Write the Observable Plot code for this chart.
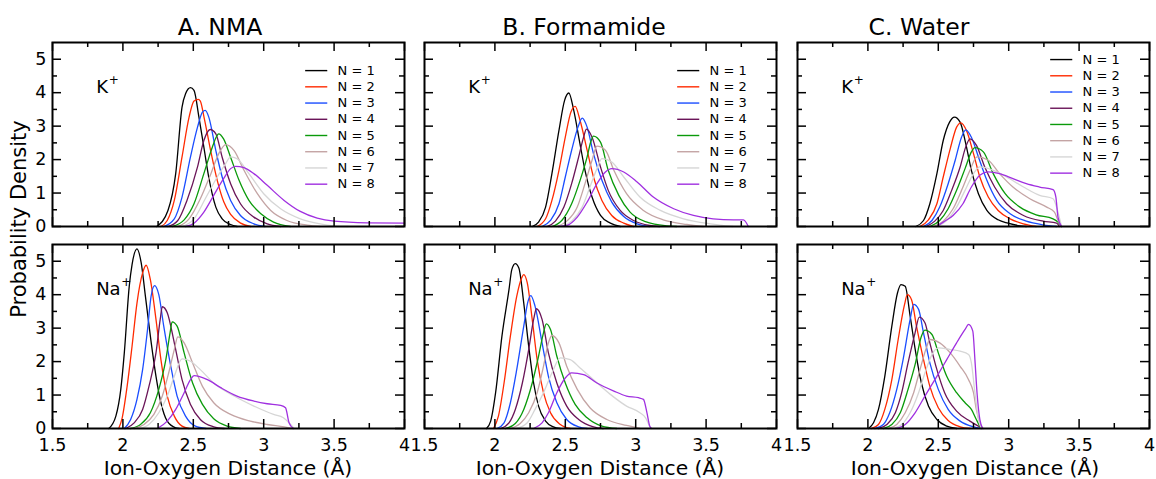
<!DOCTYPE html>
<html>
<head>
<meta charset="utf-8">
<script src="https://cdn.jsdelivr.net/npm/d3@7"></script>
<script src="https://cdn.jsdelivr.net/npm/@observablehq/plot@0.6"></script>
<style>
  html, body { margin: 0; padding: 0; background: #fff; }
  #wrap { position: relative; width: 1156px; height: 479px; overflow: hidden; background: #fff; }
  #wrap svg { position: absolute; }
</style>
</head>
<body>
<div id="wrap"></div>
<script>
// ---------------- data ----------------
const solvents = ["A. NMA", "B. Formamide", "C. Water"];
const ions = ["K", "Na"];
const nValues = [1, 2, 3, 4, 5, 6, 7, 8];
const nColors = ["#000000", "#ff2a00", "#1a4dff", "#6a1458", "#0a9a0a", "#c4a4a4", "#d6d6d6", "#a030e0"];
const xTickLabels = [1.5, 2, 2.5, 3, 3.5, 4];
const xMinorTicks = [1.75, 2.25, 2.75, 3.25, 3.75];
const yTickLabels = [0, 1, 2, 3, 4, 5];
const yMinorTicks = [0.5, 1.5, 2.5, 3.5, 4.5];
const xTitle = "Ion-Oxygen Distance (Å)";
const yTitle = "Probability Density";

// each array: 8 series (N = 1..8) of [distance, density] points
const nmaK = [
  [[2.24,0],[2.32,0.48],[2.375,1.58],[2.42,3.57],[2.445,3.97],[2.48,4.15],[2.505,4.07],[2.54,3.27],[2.575,2.37],[2.61,1.47],[2.66,0.58],[2.705,0.23],[2.765,0.06],[2.81,0]],
  [[2.27,0],[2.315,0.18],[2.365,0.78],[2.42,2.08],[2.47,3.27],[2.505,3.75],[2.535,3.80],[2.55,3.75],[2.576,3.27],[2.623,2.27],[2.67,1.38],[2.717,0.73],[2.765,0.36],[2.836,0.1],[2.907,0]],
  [[2.29,0],[2.365,0.23],[2.42,0.88],[2.48,2.08],[2.53,2.97],[2.565,3.42],[2.585,3.47],[2.61,3.27],[2.66,2.27],[2.705,1.48],[2.765,0.78],[2.835,0.33],[2.93,0.08],[3.01,0]],
  [[2.32,0],[2.39,0.18],[2.455,0.78],[2.53,1.78],[2.575,2.57],[2.62,2.90],[2.66,2.77],[2.705,2.07],[2.765,1.28],[2.835,0.68],[2.93,0.28],[3.025,0.08],[3.12,0]],
  [[2.35,0],[2.435,0.2],[2.505,0.68],[2.575,1.58],[2.635,2.37],[2.665,2.69],[2.68,2.77],[2.715,2.62],[2.765,2.07],[2.825,1.38],[2.895,0.78],[2.98,0.38],[3.07,0.13],[3.19,0]],
  [[2.39,0],[2.47,0.23],[2.55,0.83],[2.625,1.58],[2.68,2.17],[2.73,2.45],[2.79,2.27],[2.86,1.68],[2.955,0.98],[3.05,0.48],[3.165,0.18],[3.31,0.04],[3.4,0]],
  [[2.42,0],[2.505,0.23],[2.585,0.83],[2.67,1.48],[2.73,1.88],[2.765,2.08],[2.81,2.03],[2.895,1.58],[3.0,0.98],[3.12,0.53],[3.26,0.23],[3.4,0.08],[3.5,0.02],[3.6,0]],
  [[2.445,0],[2.505,0.1],[2.575,0.43],[2.645,0.93],[2.715,1.43],[2.765,1.73],[2.8,1.80],[2.86,1.76],[2.93,1.58],[3.025,1.23],[3.145,0.78],[3.26,0.45],[3.38,0.25],[3.5,0.16],[3.735,0.11],[4.0,0.1]]
];
const nmaNa = [
  [[1.9,0],[1.95,0.37],[1.985,1.17],[2.01,2.26],[2.045,4.25],[2.065,4.9],[2.1,5.37],[2.13,4.95],[2.16,3.95],[2.195,2.76],[2.235,1.56],[2.27,0.77],[2.315,0.22],[2.375,0.02],[2.4,0]],
  [[1.97,0],[1.995,0.32],[2.03,1.26],[2.065,2.46],[2.1,3.75],[2.14,4.65],[2.165,4.88],[2.195,4.45],[2.235,3.26],[2.27,2.06],[2.315,0.97],[2.365,0.37],[2.42,0.07],[2.47,0]],
  [[2.01,0],[2.055,0.27],[2.1,0.87],[2.14,1.76],[2.175,2.96],[2.2,3.95],[2.225,4.27],[2.255,4.0],[2.29,3.06],[2.34,1.86],[2.385,0.97],[2.445,0.37],[2.515,0.07],[2.59,0]],
  [[2.02,0],[2.08,0.17],[2.14,0.57],[2.185,1.26],[2.235,2.26],[2.265,3.26],[2.28,3.64],[2.315,3.46],[2.365,2.56],[2.42,1.46],[2.48,0.72],[2.55,0.27],[2.645,0.05],[2.72,0]],
  [[2.055,0],[2.125,0.12],[2.195,0.47],[2.255,1.17],[2.305,2.06],[2.335,2.86],[2.35,3.19],[2.385,3.06],[2.435,2.26],[2.495,1.36],[2.565,0.72],[2.645,0.29],[2.74,0.07],[2.835,0]],
  [[2.08,0],[2.15,0.12],[2.22,0.42],[2.28,0.97],[2.325,1.66],[2.365,2.36],[2.39,2.74],[2.435,2.56],[2.495,1.96],[2.565,1.26],[2.645,0.77],[2.765,0.42],[2.905,0.22],[3.025,0.12],[3.145,0.05],[3.21,0]],
  [[2.115,0],[2.185,0.12],[2.255,0.47],[2.315,0.97],[2.365,1.56],[2.42,2.08],[2.48,2.01],[2.55,1.76],[2.645,1.36],[2.79,0.97],[2.93,0.67],[3.07,0.42],[3.14,0.32],[3.18,0.17],[3.215,0]],
  [[2.245,0],[2.315,0.22],[2.375,0.57],[2.435,1.07],[2.48,1.46],[2.505,1.58],[2.6,1.46],[2.695,1.22],[2.81,0.97],[2.93,0.82],[3.025,0.74],[3.12,0.69],[3.155,0.62],[3.18,0.17],[3.21,0]]
];
const formK = [
  [[2.265,0],[2.31,0.13],[2.36,0.58],[2.405,1.58],[2.455,2.87],[2.495,3.77],[2.525,3.99],[2.56,3.47],[2.6,2.57],[2.64,1.68],[2.69,0.88],[2.75,0.33],[2.82,0.1],[2.89,0]],
  [[2.3,0],[2.36,0.23],[2.405,0.78],[2.455,1.68],[2.5,2.67],[2.54,3.42],[2.57,3.59],[2.605,3.17],[2.655,2.28],[2.7,1.48],[2.76,0.78],[2.83,0.33],[2.915,0.1],[2.985,0]],
  [[2.335,0],[2.395,0.18],[2.455,0.68],[2.5,1.48],[2.545,2.28],[2.59,2.97],[2.62,3.24],[2.655,2.97],[2.7,2.18],[2.76,1.38],[2.83,0.73],[2.915,0.3],[3.01,0.08],[3.1,0]],
  [[2.37,0],[2.43,0.16],[2.49,0.58],[2.545,1.28],[2.595,2.08],[2.63,2.67],[2.65,2.91],[2.69,2.67],[2.75,1.78],[2.805,1.08],[2.89,0.48],[2.985,0.18],[3.1,0.03],[3.17,0]],
  [[2.405,0],[2.475,0.18],[2.545,0.68],[2.605,1.38],[2.655,2.08],[2.68,2.52],[2.7,2.70],[2.75,2.52],[2.805,1.68],[2.88,0.93],[2.96,0.43],[3.08,0.13],[3.22,0.02],[3.29,0]],
  [[2.44,0],[2.51,0.16],[2.585,0.58],[2.64,1.28],[2.69,1.98],[2.725,2.40],[2.785,2.28],[2.845,1.68],[2.935,0.98],[3.055,0.48],[3.195,0.2],[3.365,0.06],[3.48,0]],
  [[2.475,0],[2.545,0.16],[2.62,0.58],[2.675,1.18],[2.725,1.73],[2.76,2.03],[2.83,1.93],[2.915,1.48],[3.03,0.88],[3.175,0.48],[3.34,0.23],[3.53,0.08],[3.69,0]],
  [[2.45,0],[2.51,0.03],[2.585,0.28],[2.655,0.73],[2.725,1.28],[2.785,1.63],[2.83,1.73],[2.915,1.63],[3.01,1.33],[3.125,0.88],[3.27,0.53],[3.41,0.33],[3.55,0.23],[3.695,0.2],[3.765,0.2],[3.8,0]]
];
const formNa = [
  [[1.94,0],[1.97,0.22],[2.005,1.07],[2.05,2.76],[2.1,4.15],[2.12,4.75],[2.145,4.93],[2.17,4.8],[2.205,3.75],[2.24,2.46],[2.275,1.36],[2.31,0.67],[2.36,0.22],[2.415,0.05],[2.465,0]],
  [[1.99,0],[2.025,0.37],[2.065,1.36],[2.11,2.76],[2.155,3.95],[2.19,4.5],[2.205,4.6],[2.23,4.35],[2.265,3.26],[2.3,2.06],[2.345,1.07],[2.395,0.47],[2.465,0.12],[2.535,0]],
  [[2.015,0],[2.065,0.17],[2.11,0.77],[2.155,1.76],[2.205,3.06],[2.235,3.8],[2.255,3.97],[2.285,3.66],[2.335,2.56],[2.38,1.56],[2.44,0.77],[2.51,0.27],[2.595,0.05],[2.655,0]],
  [[2.04,0],[2.1,0.17],[2.145,0.57],[2.195,1.36],[2.24,2.36],[2.275,3.26],[2.295,3.58],[2.335,3.26],[2.38,2.26],[2.44,1.36],[2.51,0.67],[2.595,0.27],[2.7,0.05],[2.77,0]],
  [[2.075,0],[2.145,0.15],[2.205,0.57],[2.265,1.36],[2.31,2.16],[2.345,2.86],[2.365,3.13],[2.395,2.96],[2.44,2.16],[2.5,1.36],[2.57,0.72],[2.655,0.32],[2.76,0.07],[2.865,0]],
  [[2.11,0],[2.18,0.15],[2.24,0.47],[2.3,1.07],[2.345,1.86],[2.38,2.56],[2.405,2.78],[2.455,2.56],[2.51,1.86],[2.585,1.17],[2.675,0.62],[2.795,0.27],[2.935,0.09],[3.03,0]],
  [[2.155,0],[2.23,0.17],[2.285,0.57],[2.345,1.07],[2.405,1.66],[2.465,2.11],[2.535,2.06],[2.605,1.81],[2.7,1.46],[2.82,1.02],[2.935,0.67],[3.03,0.47],[3.07,0.32],[3.105,0]],
  [[2.275,0],[2.335,0.17],[2.38,0.47],[2.44,1.07],[2.5,1.51],[2.545,1.66],[2.63,1.61],[2.725,1.36],[2.845,1.12],[2.935,0.97],[3.02,0.92],[3.055,0.87],[3.08,0.47],[3.1,0.07],[3.115,0]]
];
const waterK = [
  [[2.34,0],[2.395,0.18],[2.44,0.68],[2.49,1.58],[2.535,2.57],[2.58,3.12],[2.615,3.27],[2.655,3.12],[2.695,2.48],[2.735,1.68],[2.785,0.98],[2.845,0.48],[2.925,0.2],[2.995,0.1],[3.08,0.02],[3.125,0]],
  [[2.37,0],[2.43,0.2],[2.49,0.68],[2.535,1.48],[2.585,2.33],[2.63,2.97],[2.66,3.10],[2.7,2.87],[2.75,2.18],[2.795,1.48],[2.855,0.88],[2.925,0.48],[3.01,0.23],[3.105,0.08],[3.195,0]],
  [[2.395,0],[2.455,0.18],[2.51,0.58],[2.57,1.28],[2.62,1.98],[2.665,2.67],[2.695,2.89],[2.735,2.67],[2.785,2.08],[2.845,1.38],[2.915,0.78],[3.01,0.38],[3.125,0.16],[3.245,0.05],[3.34,0]],
  [[2.415,0],[2.475,0.16],[2.535,0.48],[2.595,1.08],[2.655,1.78],[2.695,2.38],[2.725,2.62],[2.77,2.43],[2.83,1.78],[2.9,1.18],[2.985,0.68],[3.105,0.33],[3.245,0.16],[3.34,0.1],[3.36,0]],
  [[2.44,0],[2.51,0.18],[2.57,0.53],[2.63,1.08],[2.69,1.73],[2.735,2.23],[2.76,2.36],[2.82,2.23],[2.89,1.58],[2.975,0.98],[3.08,0.58],[3.195,0.35],[3.315,0.23],[3.35,0.13],[3.375,0]],
  [[2.465,0],[2.535,0.16],[2.605,0.53],[2.665,1.08],[2.725,1.68],[2.775,2.08],[2.855,1.98],[2.935,1.58],[3.03,1.18],[3.15,0.83],[3.27,0.58],[3.325,0.43],[3.35,0.18],[3.375,0]],
  [[2.49,0],[2.56,0.18],[2.63,0.58],[2.69,1.08],[2.75,1.58],[2.795,1.78],[2.89,1.68],[2.985,1.48],[3.105,1.18],[3.22,0.93],[3.315,0.83],[3.34,0.58],[3.365,0.18],[3.375,0]],
  [[2.49,0],[2.535,0.13],[2.605,0.33],[2.675,0.68],[2.735,1.18],[2.795,1.53],[2.855,1.63],[2.935,1.58],[3.03,1.43],[3.125,1.28],[3.22,1.18],[3.315,1.1],[3.335,0.88],[3.35,0.28],[3.375,0]]
];
const waterNa = [
  [[2.005,0],[2.04,0.17],[2.075,0.57],[2.12,1.56],[2.17,3.06],[2.21,4.05],[2.235,4.30],[2.265,4.25],[2.3,3.36],[2.34,2.26],[2.38,1.36],[2.43,0.67],[2.49,0.27],[2.56,0.07],[2.63,0]],
  [[2.025,0],[2.075,0.12],[2.12,0.57],[2.17,1.46],[2.215,2.66],[2.26,3.7],[2.28,4.0],[2.31,3.85],[2.345,3.06],[2.395,2.06],[2.44,1.26],[2.5,0.62],[2.57,0.24],[2.655,0.05],[2.725,0]],
  [[2.05,0],[2.11,0.12],[2.155,0.47],[2.205,1.17],[2.25,2.06],[2.3,3.26],[2.325,3.71],[2.36,3.56],[2.395,2.86],[2.44,1.96],[2.5,1.17],[2.57,0.57],[2.655,0.22],[2.75,0.05],[2.805,0]],
  [[2.075,0],[2.135,0.12],[2.195,0.47],[2.24,1.07],[2.285,1.96],[2.335,2.86],[2.365,3.33],[2.405,3.16],[2.44,2.56],[2.49,1.76],[2.545,1.07],[2.63,0.52],[2.725,0.22],[2.785,0.07],[2.82,0]],
  [[2.11,0],[2.17,0.12],[2.23,0.47],[2.285,1.17],[2.335,1.91],[2.38,2.76],[2.405,2.94],[2.455,2.81],[2.5,2.26],[2.56,1.56],[2.63,1.07],[2.69,0.77],[2.735,0.57],[2.77,0.27],[2.795,0.07],[2.805,0]],
  [[2.145,0],[2.205,0.12],[2.265,0.47],[2.325,1.07],[2.37,1.76],[2.415,2.41],[2.44,2.66],[2.51,2.56],[2.585,2.26],[2.655,1.86],[2.715,1.46],[2.75,1.07],[2.77,0.57],[2.795,0.17],[2.815,0]],
  [[2.17,0],[2.24,0.12],[2.3,0.47],[2.36,1.07],[2.405,1.66],[2.455,2.21],[2.5,2.41],[2.585,2.36],[2.655,2.31],[2.715,2.21],[2.735,1.96],[2.76,1.07],[2.785,0.27],[2.805,0]],
  [[2.195,0],[2.265,0.12],[2.335,0.47],[2.405,0.97],[2.49,1.56],[2.56,2.06],[2.63,2.56],[2.69,2.96],[2.715,3.11],[2.745,2.91],[2.76,2.06],[2.775,1.07],[2.795,0.27],[2.815,0]]
];

// ---------------- layout ----------------
const FONT = '"DejaVu Sans", "Liberation Sans", sans-serif';
const W = 352, H = 184;
const ML = 40, MR = 14, MT = 8, MB = 34;
const panelLeft = [52, 424, 797];
const panelTop = [42, 244];
const legendTop = [4.66, 4.66, 4.99];
const legendStep = 0.485;
const supDx = {K: 12.5, Na: 25};

const grid = [[nmaK, formK, waterK], [nmaNa, formNa, waterNa]];
const wrap = document.getElementById("wrap");

function makePanel(series, row, col) {
  const ion = ions[row];
  const table = series.flatMap((pts, i) => pts.map(([x, y]) => ({x, y, n: nValues[i]})));
  const marks = [
    Plot.line(table, {x: "x", y: "y", z: "n", stroke: "n", strokeWidth: 1.3, curve: "monotone-x"}),
    // inward ticks: bottom / top
    Plot.tickX(xTickLabels, {x: d => d, insetTop: H - 9, stroke: "black", strokeWidth: 1.5}),
    Plot.tickX(xMinorTicks, {x: d => d, insetTop: H - 5, stroke: "black", strokeWidth: 1.5}),
    Plot.tickX(xTickLabels, {x: d => d, insetBottom: H - 9, stroke: "black", strokeWidth: 1.5}),
    Plot.tickX(xMinorTicks, {x: d => d, insetBottom: H - 5, stroke: "black", strokeWidth: 1.5}),
    // inward ticks: left / right
    Plot.tickY(yTickLabels, {y: d => d, insetRight: W - 9, stroke: "black", strokeWidth: 1.5}),
    Plot.tickY(yMinorTicks, {y: d => d, insetRight: W - 5, stroke: "black", strokeWidth: 1.5}),
    Plot.tickY(yTickLabels, {y: d => d, insetLeft: W - 9, stroke: "black", strokeWidth: 1.5}),
    Plot.tickY(yMinorTicks, {y: d => d, insetLeft: W - 5, stroke: "black", strokeWidth: 1.5}),
    Plot.frame({stroke: "black", strokeWidth: 2}),
    // ion label
    Plot.text([ion], {x: () => 1.81, y: () => 3.98, text: d => d, textAnchor: "start", lineAnchor: "bottom", fontSize: 18, fill: "black"}),
    Plot.text([ion], {x: () => 1.81, y: () => 3.98, text: () => "+", textAnchor: "start", lineAnchor: "middle", dx: supDx[ion], dy: -13, fontSize: 12, fill: "black"})
  ];
  if (row === 0) {
    const top = legendTop[col];
    marks.push(
      Plot.ruleY(nValues, {y: (d, i) => top - i * legendStep, x1: () => 3.298, x2: () => 3.455, stroke: d => d, strokeWidth: 1.4}),
      Plot.text(nValues, {x: () => 3.525, y: (d, i) => top - i * legendStep, text: d => `N = ${d}`, textAnchor: "start", lineAnchor: "middle", fontSize: 13, fill: "black"})
    );
  }
  if (row === 1) {
    marks.push(Plot.axisX(xTickLabels, {anchor: "bottom", tickSize: 0, tickPadding: 10, fontSize: 17.5, tickFormat: d => String(d), label: null}));
  }
  if (col === 0) {
    marks.push(Plot.axisY(yTickLabels, {anchor: "left", tickSize: 0, tickPadding: 6, fontSize: 17.5, tickFormat: d => String(d), label: null}));
  }
  const svg = Plot.plot({
    width: W + ML + MR,
    height: H + MT + MB,
    marginLeft: ML, marginRight: MR, marginTop: MT, marginBottom: MB,
    x: {domain: [1.5, 4], axis: null},
    y: {domain: [0, 5.5], axis: null},
    color: {domain: nValues, range: nColors},
    style: {fontFamily: FONT, background: "transparent", overflow: "visible", color: "black"},
    marks
  });
  svg.style.position = "absolute";
  svg.style.left = (panelLeft[col] - ML) + "px";
  svg.style.top = (panelTop[row] - MT) + "px";
  svg.style.maxWidth = "none";
  wrap.appendChild(svg);
}

grid.forEach((rowData, r) => rowData.forEach((series, c) => makePanel(series, r, c)));

// titles and axis titles
const overlay = d3.create("svg")
  .attr("width", 1156).attr("height", 479)
  .style("left", "0px").style("top", "0px")
  .style("pointer-events", "none")
  .style("font-family", FONT);
const titleX = [220, 584, 919];
const xTitleX = [228, 600, 975];
solvents.forEach((s, i) => {
  overlay.append("text").attr("x", titleX[i]).attr("y", 35)
    .attr("text-anchor", "middle").attr("font-size", 23.5).attr("fill", "black").text(s);
  overlay.append("text").attr("x", xTitleX[i]).attr("y", 474.5)
    .attr("text-anchor", "middle").attr("font-size", 20.3).attr("fill", "black").text(xTitle);
});
overlay.append("text")
  .attr("transform", "translate(26,219) rotate(-90)")
  .attr("text-anchor", "middle").attr("font-size", 21).attr("fill", "black").text(yTitle);
wrap.appendChild(overlay.node());
</script>
</body>
</html>
